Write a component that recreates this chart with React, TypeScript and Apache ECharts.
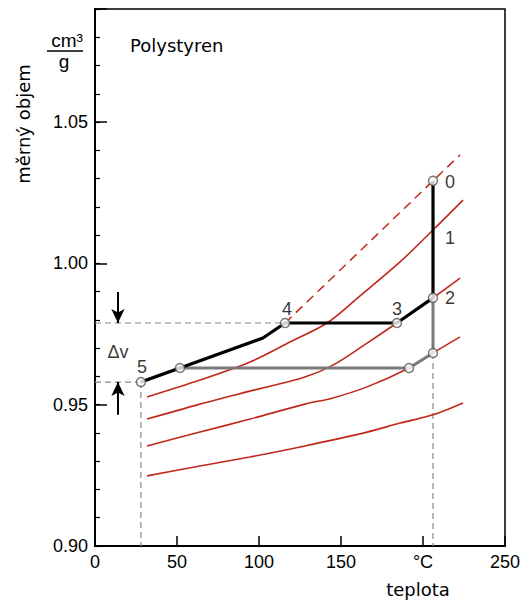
import React, { useEffect, useRef } from "react";
import * as echarts from "echarts";

// x = temperature (°C), y = specific volume (cm3/g)
const xTicks = [0, 50, 100, 150, 200, 250];
const xTickLabels = ["0", "50", "100", "150", "°C", "250"];
const yTickLabels = ["0.90", "0.95", "1.00", "1.05"];

const curve1: number[][] = [[31.7, 0.9527], [64.0, 0.9587], [94.5, 0.9651], [118.9, 0.9722], [141.5, 0.9789], [161.6, 0.9885], [186.0, 1.0005], [207.3, 1.0125], [224.4, 1.0224]];
const curve2: number[][] = [[31.7, 0.9449], [64.0, 0.9502], [94.5, 0.9548], [128.0, 0.9598], [145.1, 0.964], [165.9, 0.9718], [184.1, 0.9789], [206.1, 0.9878], [222.6, 0.9948]];
const curve3: number[][] = [[31.7, 0.9354], [64.0, 0.9403], [94.5, 0.9449], [128.0, 0.9502], [145.1, 0.9524], [165.9, 0.9563], [191.5, 0.963], [206.1, 0.9683], [222.6, 0.974]];
const curve4: number[][] = [[31.7, 0.9248], [64.0, 0.9283], [94.5, 0.9315], [128.0, 0.9354], [165.9, 0.9403], [186.0, 0.9435], [206.1, 0.9464], [224.4, 0.9506]];
const liquidLine: number[][] = [[115.9, 0.9789], [222.6, 1.0384]];

const blackPath: number[][] = [[206.1, 1.0292], [206.1, 0.9878], [184.1, 0.9789], [115.9, 0.9789], [102.4, 0.9736], [51.8, 0.963], [28.0, 0.958]];
const grayPath: number[][] = [[206.1, 0.9878], [206.1, 0.9683], [191.5, 0.963], [51.8, 0.963], [28.0, 0.958]];
const circlePoints: number[][] = [[206.1, 1.0292], [206.1, 0.9878], [184.1, 0.9789], [115.9, 0.9789], [28.0, 0.958], [51.8, 0.963], [191.5, 0.963], [206.1, 0.9683]];

const pointLabels = ["0", "1", "2", "3", "4", "5", "Δv"];
const pointLabelPos: number[][] = [[216.5, 1.0288], [216.5, 1.009], [216.5, 0.9878], [184.1, 0.9838], [117.1, 0.9838], [28.7, 0.9633], [14.0, 0.9687]];

const guideLines: number[][][] = [
  [[0, 0.9789], [115.9, 0.9789]],
  [[0, 0.958], [28.0, 0.958]],
  [[28.0, 0.958], [28.0, 0.9]],
  [[206.1, 0.9683], [206.1, 0.9]],
];
const arrows: number[][][] = [
  [[14.0, 0.9899], [14.0, 0.9789]],
  [[14.0, 0.9464], [14.0, 0.958]],
];

const RED = "#c0281a";
const NUM_FONT = "'Liberation Sans', Arial, sans-serif";
const TXT_FONT = "'DejaVu Sans', sans-serif";

export default function App() {
  const ref = useRef<HTMLDivElement>(null);
  useEffect(() => {
    if (!ref.current) return;
    const chart = echarts.init(ref.current, null, { renderer: "svg" });
    const redSeries = [curve1, curve2, curve3, curve4].map((c) => ({
      type: "line",
      data: c,
      smooth: 0.3,
      symbol: "none",
      lineStyle: { color: RED, width: 1.6 },
      z: 2,
      silent: true,
    }));
    const guideSeries = guideLines.map((g) => ({
      type: "line",
      data: g,
      symbol: "none",
      lineStyle: { color: "#888", width: 1.2, type: [6, 4] },
      z: 1,
      silent: true,
    }));
    chart.setOption({
      animation: false,
      grid: { left: 95, right: 24, top: 9, bottom: 57, show: true, borderColor: "#000", borderWidth: 1.5, backgroundColor: "transparent" },
      xAxis: {
        type: "value",
        min: xTicks[0],
        max: xTicks[xTicks.length - 1],
        interval: 50,
        axisLine: { show: true, onZero: false, lineStyle: { color: "#000", width: 2 } },
        axisTick: { show: true, inside: true, length: 10, lineStyle: { color: "#000", width: 1.5 } },
        splitLine: { show: false },
        axisLabel: {
          margin: 7,
          fontSize: 18,
          fontFamily: NUM_FONT,
          color: "#000",
          showMinLabel: true,
          showMaxLabel: true,
          formatter: (v: number) => {
            const i = xTicks.indexOf(Math.round(v));
            return i >= 0 ? xTickLabels[i] : "";
          },
        },
      },
      yAxis: [
        {
          type: "value",
          min: 0.9,
          max: 1.09,
          interval: 0.05,
          axisLine: { show: true, onZero: false, lineStyle: { color: "#000", width: 2 } },
          axisTick: { show: true, inside: true, length: 12, lineStyle: { color: "#000", width: 1.5 } },
          splitLine: { show: false },
          axisLabel: {
            margin: 7,
            fontSize: 18,
            fontFamily: NUM_FONT,
            color: "#000",
            formatter: (v: number) => {
              const s = v.toFixed(2);
              return yTickLabels.indexOf(s) >= 0 ? s : "";
            },
          },
        },
        {
          type: "value",
          position: "left",
          min: 0.9,
          max: 1.09,
          interval: 0.01,
          axisLine: { show: false },
          axisTick: { show: true, inside: true, length: 5, lineStyle: { color: "#000", width: 1.2 } },
          splitLine: { show: false },
          axisLabel: { show: false },
        },
      ],
      series: [
        ...guideSeries,
        ...redSeries,
        {
          type: "line",
          data: liquidLine,
          symbol: "none",
          lineStyle: { color: RED, width: 1.5, type: [9, 6] },
          z: 2,
          silent: true,
        },
        {
          type: "line",
          data: grayPath,
          symbol: "none",
          lineStyle: { color: "#7a7a7a", width: 3 },
          z: 3,
          silent: true,
        },
        {
          type: "line",
          data: blackPath,
          symbol: "none",
          lineStyle: { color: "#000", width: 3.2 },
          z: 4,
          silent: true,
          markLine: {
            silent: true,
            symbol: ["none", "arrow"],
            symbolSize: [10, 14],
            label: { show: false },
            lineStyle: { color: "#000", width: 2, type: "solid" },
            data: arrows.map((a) => [{ coord: a[0] }, { coord: a[1] }]),
          },
        },
        {
          type: "scatter",
          data: circlePoints,
          symbol: "circle",
          symbolSize: 9,
          itemStyle: { color: "#fff", borderColor: "#555", borderWidth: 1.5 },
          z: 5,
          silent: true,
        },
        {
          type: "scatter",
          data: pointLabelPos.map((p, i) => ({ value: p, name: pointLabels[i] })),
          symbolSize: 0,
          itemStyle: { color: "transparent" },
          z: 6,
          silent: true,
          label: {
            show: true,
            position: "inside",
            formatter: "{b}",
            fontSize: 18,
            fontFamily: NUM_FONT,
            color: "#000",
            textBorderWidth: 0,
          },
        },
      ],
      graphic: [
        { type: "text", x: 130, y: 45, style: { text: "Polystyren", fontSize: 18, fontFamily: TXT_FONT, fill: "#000", textVerticalAlign: "middle" } },
        { type: "text", x: 418, y: 589, style: { text: "teplota", fontSize: 18, fontFamily: TXT_FONT, fill: "#000", textAlign: "center", textVerticalAlign: "middle" } },
        { type: "text", x: 23, y: 124, rotation: Math.PI / 2, style: { text: "měrný objem", fontSize: 18, fontFamily: TXT_FONT, fill: "#000", textAlign: "center", textVerticalAlign: "middle" } },
        { type: "text", x: 67, y: 40, style: { text: "cm³", fontSize: 19, fontFamily: NUM_FONT, fill: "#000", textAlign: "center", textVerticalAlign: "middle" } },
        { type: "line", shape: { x1: 47, y1: 51, x2: 83, y2: 51 }, style: { stroke: "#000", lineWidth: 1.3 } },
        { type: "text", x: 64, y: 61, style: { text: "g", fontSize: 19, fontFamily: NUM_FONT, fill: "#000", textAlign: "center", textVerticalAlign: "middle" } },
      ],
    });
    return () => chart.dispose();
  }, []);
  return <div ref={ref} style={{ width: 529, height: 603, position: "absolute", left: 0, top: 0 }} />;
}
